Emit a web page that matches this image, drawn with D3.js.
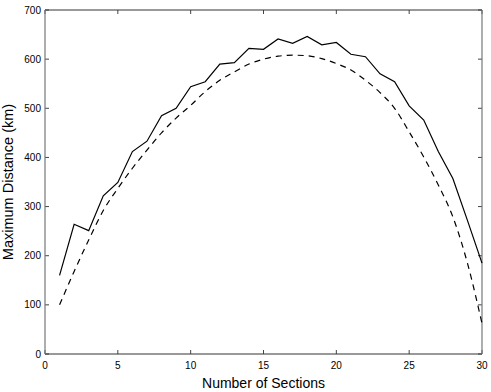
<!DOCTYPE html>
<html>
<head>
<meta charset="utf-8">
<script src="https://cdn.jsdelivr.net/npm/d3@7"></script>
<style>
  body { margin: 0; background: #fff; }
  text { font-family: "Liberation Sans", Arial, sans-serif; fill: #000; }
</style>
</head>
<body>
<svg id="chart" width="491" height="392"></svg>
<script>
const sections = d3.range(1, 31);
const solidValues = [160, 264, 251, 322, 349, 412, 433, 485, 500, 544,
                     554, 590, 593, 622, 620, 641, 632, 646, 629, 634,
                     610, 605, 570, 554, 505, 476, 412, 357, 272, 185];
const dashedValues = [100, 168, 232, 292, 337, 378, 415, 450, 480, 506,
                      534, 557, 574, 590, 600, 606, 608, 607, 601, 591,
                      578, 557, 532, 500, 452, 401, 344, 279, 185, 62];
const xTicks = [0, 5, 10, 15, 20, 25, 30];
const yTicks = [0, 100, 200, 300, 400, 500, 600, 700];

const svg = d3.select("#chart");
const L = 45, R = 482, T = 10, B = 354;
const x = d3.scaleLinear().domain([0, 30]).range([L, R]);
const y = d3.scaleLinear().domain([0, 700]).range([B, T]);

// Ticks (inward) on all four sides
const tickLen = 4;
const g = svg.append("g");
xTicks.forEach(t => {
  g.append("line").attr("x1", x(t)).attr("x2", x(t)).attr("y1", B).attr("y2", B - tickLen).attr("stroke", "#444");
  g.append("line").attr("x1", x(t)).attr("x2", x(t)).attr("y1", T).attr("y2", T + tickLen).attr("stroke", "#444");
  g.append("text").attr("x", x(t)).attr("y", B + 15).attr("text-anchor", "middle")
    .attr("font-size", 10).text(t);
});
yTicks.forEach(t => {
  g.append("line").attr("x1", L).attr("x2", L + tickLen).attr("y1", y(t)).attr("y2", y(t)).attr("stroke", "#444");
  g.append("line").attr("x1", R).attr("x2", R - tickLen).attr("y1", y(t)).attr("y2", y(t)).attr("stroke", "#444");
  g.append("text").attr("x", L - 4).attr("y", y(t) + 3.5).attr("text-anchor", "end")
    .attr("font-size", 10).text(t);
});

// Box
svg.append("line").attr("x1", L).attr("x2", R).attr("y1", B).attr("y2", B).attr("stroke", "#333");
svg.append("line").attr("x1", L).attr("x2", R).attr("y1", T).attr("y2", T).attr("stroke", "#333");
svg.append("line").attr("x1", L).attr("x2", L).attr("y1", T).attr("y2", B).attr("stroke", "#777").attr("stroke-width", 1.2);
svg.append("line").attr("x1", R).attr("x2", R).attr("y1", T).attr("y2", B).attr("stroke", "#777").attr("stroke-width", 1.2);

const line = d3.line().x((d, i) => x(sections[i])).y(d => y(d));

svg.append("path").datum(solidValues).attr("d", line)
  .attr("fill", "none").attr("stroke", "#000").attr("stroke-width", 1.2);
svg.append("path").datum(dashedValues).attr("d", d3.line().curve(d3.curveMonotoneX).x((d, i) => x(sections[i])).y(d => y(d)))
  .attr("fill", "none").attr("stroke", "#000").attr("stroke-width", 1.2)
  .attr("stroke-dasharray", "6,5");

// Axis titles
svg.append("text").attr("x", (L + R) / 2).attr("y", 388).attr("text-anchor", "middle")
  .attr("font-size", 14).text("Number of Sections");
svg.append("text").attr("transform", `translate(13, ${(T + B) / 2}) rotate(-90)`)
  .attr("text-anchor", "middle").attr("font-size", 14.5).text("Maximum Distance (km)");
</script>
</body>
</html>
